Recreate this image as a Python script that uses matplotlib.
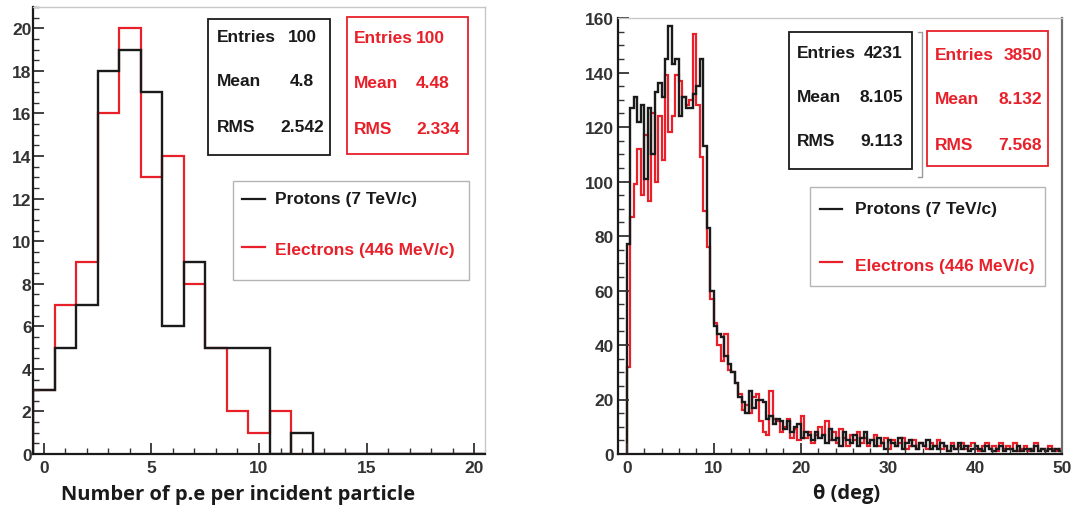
import numpy as np
import matplotlib
matplotlib.use("Agg")
import matplotlib.pyplot as plt
from matplotlib.patches import Rectangle
from matplotlib.lines import Line2D
from matplotlib.ticker import MultipleLocator

plt.rcParams["font.family"] = ["Liberation Sans", "DejaVu Sans"]
plt.rcParams["font.weight"] = "bold"

W, H = 1075, 510
BLACK = "#1a1a1a"
RED = "#e8202a"
GRID_GRAY = "#c8c8c8"

# ---- photoelectron yield per incident particle (unit bins centred on 0..20)
npe_centres = np.arange(0, 21)
npe_protons = [3, 5, 7, 18, 19, 17, 6, 9, 5, 5, 5, 0, 1, 0, 0, 0, 0, 0, 0, 0, 0]
npe_electrons = [3, 7, 9, 16, 20, 13, 14, 8, 5, 2, 1, 2, 0, 0, 0, 0, 0, 0, 0, 0, 0]

# ---- emission angle theta (0.4 deg bins from 0 to 50 deg)
theta_edges = np.linspace(0, 50, 126)
theta_protons = [
    77, 127, 131, 122, 128, 101, 127, 110, 133, 136, 131, 145, 157, 143, 145, 124,
    131, 127, 127, 132, 135, 145, 113, 83,
    60, 47, 44, 43, 36, 33, 30, 26, 21, 19, 15, 23, 17, 20, 20, 19, 13, 14, 11, 13,
    12, 9, 12, 8, 10, 11, 6, 8, 7, 5, 8, 6,
    7, 4, 9, 5, 6, 3, 8, 5, 4, 7, 3, 6, 8, 4, 5, 3, 6, 4, 2, 5,
    4, 3, 6, 2, 4, 5, 3, 2, 4, 3, 5, 2, 3, 2, 4, 3, 1, 3, 2, 4,
    2, 3, 1, 2, 3, 2, 1, 3, 2, 1, 2, 3, 1, 2, 2, 1, 3, 1, 2, 2,
    1, 3, 1, 2, 1, 2, 1, 2, 1,
]
theta_electrons = [
    32, 87, 99, 112, 95, 117, 93, 125, 100, 124, 108, 139, 118, 124, 139, 137,
    131, 128, 130, 154, 128, 109, 89, 76,
    57, 48, 40, 34, 44, 31, 30, 26, 22, 16, 18, 15, 21, 22, 12, 8, 7, 23, 13, 12,
    8, 10, 13, 6, 9, 5, 14, 6, 8, 4, 7, 10,
    7, 12, 5, 8, 4, 9, 6, 3, 7, 5, 8, 4, 6, 3, 5, 7, 3, 4, 6, 2,
    5, 3, 4, 6, 2, 3, 5, 2, 4, 3, 2, 4, 3, 5, 2, 3, 1, 4, 2, 3,
    4, 2, 3, 4, 2, 1, 3, 4, 2, 3, 1, 4, 2, 3, 2, 4, 1, 2, 3, 1,
    2, 4, 1, 2, 1, 3, 2, 1, 2,
]

stat_names = ["Entries", "Mean", "RMS"]
theta_stats_protons = ["4231", "8.105", "9.113"]
theta_stats_electrons = ["3850", "8.132", "7.568"]
series_labels = ["Protons (7 TeV/c)", "Electrons (446 MeV/c)"]


def fx(px):
    return px / W


def fy(py):
    return 1.0 - py / H


def hist_stats(centres, counts):
    c = np.asarray(counts, float)
    x = np.asarray(centres, float)
    n = c.sum()
    mean = (c * x).sum() / n
    rms = np.sqrt((c * x * x).sum() / n - mean ** 2)
    return [f"{int(n)}", f"{mean:.4g}", f"{rms:.4g}"]


fig = plt.figure(figsize=(W / 100, H / 100), dpi=100)
fig.patch.set_facecolor("white")


def style_axes(ax, right_color, right_lw):
    ax.spines["left"].set_color(BLACK)
    ax.spines["bottom"].set_color(BLACK)
    ax.spines["left"].set_linewidth(1.6)
    ax.spines["bottom"].set_linewidth(1.6)
    ax.spines["top"].set_color(GRID_GRAY)
    ax.spines["top"].set_linewidth(1.0)
    ax.spines["right"].set_color(right_color)
    ax.spines["right"].set_linewidth(right_lw)
    ax.tick_params(which="both", direction="in", colors="#333333",
                   labelsize=12.5, top=False, right=False)
    ax.tick_params(which="major", length=8, width=1.3)
    ax.tick_params(which="minor", length=4, width=1.0)
    for lbl in ax.get_xticklabels() + ax.get_yticklabels():
        lbl.set_fontweight("bold")


# ---------------- left panel ----------------
axL = fig.add_axes([fx(33), fy(455), (485 - 33) / W, (455 - 8) / H])
npe_edges = np.append(npe_centres - 0.5, npe_centres[-1] + 0.5)
axL.stairs(npe_electrons, npe_edges, color=RED, lw=1.6, baseline=0)
axL.stairs(npe_protons, npe_edges, color=BLACK, lw=1.7, baseline=0)
axL.set_xlim(-0.5, 20.5)
axL.set_ylim(0, 21)
axL.xaxis.set_major_locator(MultipleLocator(5))
axL.xaxis.set_minor_locator(MultipleLocator(1))
axL.yaxis.set_major_locator(MultipleLocator(2))
axL.yaxis.set_minor_locator(MultipleLocator(0.5))
style_axes(axL, GRID_GRAY, 1.0)
axL.tick_params(axis="y", pad=1)
axL.tick_params(axis="x", pad=4)

# ---------------- right panel ----------------
axR = fig.add_axes([fx(618), fy(455), (1062 - 618) / W, (455 - 19) / H])
axR.stairs(theta_electrons, theta_edges, color=RED, lw=1.6, baseline=0)
axR.stairs(theta_protons, theta_edges, color=BLACK, lw=1.7, baseline=0)
axR.set_xlim(-1, 50)
axR.set_ylim(0, 160)
axR.xaxis.set_major_locator(MultipleLocator(10))
axR.xaxis.set_minor_locator(MultipleLocator(2))
axR.yaxis.set_major_locator(MultipleLocator(20))
axR.yaxis.set_minor_locator(MultipleLocator(5))
style_axes(axR, "#6e6e6e", 1.6)
axR.tick_params(axis="y", pad=3)
axR.tick_params(axis="x", pad=4)

# ---------------- axis titles ----------------
title_font = ["Open Sans", "DejaVu Sans"]
fig.text(fx(238), fy(495), "Number of p.e per incident particle", ha="center",
         va="center", fontsize=14.5, fontweight="bold", color="#1a1a1a",
         family=title_font)
fig.text(fx(847), fy(494), "\u03b8 (deg)", ha="center", va="center",
         fontsize=14.5, fontweight="bold", color="#1a1a1a", family=title_font)


# ---------------- stat boxes and legends ----------------
def box(x0, y0, x1, y1, edge, lw=1.3):
    fig.patches.append(Rectangle((fx(x0), fy(y1)), (x1 - x0) / W, (y1 - y0) / H,
                                 transform=fig.transFigure, fill=True,
                                 facecolor="white", edgecolor=edge, lw=lw,
                                 zorder=5))


def stat_box(rect, values, color, label_x, value_x, value_ha, rows):
    box(*rect, edge=color)
    for name, val, y in zip(stat_names, values, rows):
        fig.text(fx(label_x), fy(y), name, ha="left", va="center", fontsize=12.5,
                 fontweight="bold", color=color, zorder=6)
        fig.text(fx(value_x), fy(y), val, ha=value_ha, va="center", fontsize=12.5,
                 fontweight="bold", color=color, zorder=6)


def legend_box(rect, line_x, text_x, rows):
    box(*rect, edge="#b4b4b4", lw=1.0)
    for lab, col, (yl, yt) in zip(series_labels, [BLACK, RED], rows):
        fig.lines.append(Line2D([fx(line_x[0]), fx(line_x[1])], [fy(yl), fy(yl)],
                                transform=fig.transFigure, color=col, lw=1.6,
                                zorder=6))
        fig.text(fx(text_x), fy(yt), lab, ha="left", va="center", fontsize=12.5,
                 fontweight="bold", color=col, zorder=6)


stat_box((208, 20, 330, 156), hist_stats(npe_centres, npe_protons), BLACK,
         217, 302, "center", (37, 82, 127))
stat_box((347, 18, 468, 155), hist_stats(npe_centres, npe_electrons), RED,
         354, 416, "left", (39, 84, 129))
legend_box((233, 182, 469, 281), (242, 265), 275, ((200, 200), (248, 251)))

stat_box((789, 33, 912, 170), theta_stats_protons, BLACK,
         797, 903, "right", (53, 97, 142))
stat_box((927, 32, 1048, 167), theta_stats_electrons, RED,
         935, 1042, "right", (55, 100, 145))
fig.lines.append(Line2D([fx(918), fx(922), fx(922), fx(918)],
                        [fy(33), fy(33), fy(178), fy(178)],
                        transform=fig.transFigure, color="#9a9a9a", lw=1.0,
                        zorder=6))
legend_box((810, 188, 1045, 287), (820, 842), 855, ((210, 210), (263, 266)))

fig.savefig("out.png", dpi=100)
